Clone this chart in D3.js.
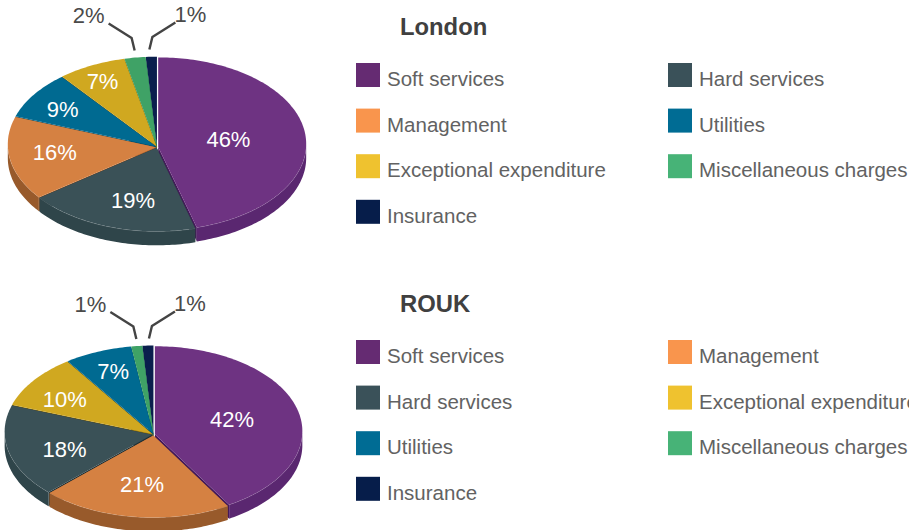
<!DOCTYPE html>
<html><head><meta charset="utf-8">
<script src="https://cdn.jsdelivr.net/npm/d3@7"></script>
<style>html,body{margin:0;padding:0;background:#fff;overflow:hidden}svg{display:block}text{font-family:"Liberation Sans",Arial,sans-serif}</style>
</head><body><svg id="c" width="909" height="530"></svg>
<script>
const londonCategories=["Soft services","Hard services","Management","Utilities","Exceptional expenditure","Miscellaneous charges","Insurance"];
const londonValues=[45.8,18.7,15.6,8.9,7.49,2.3,1.21];
const roukCategories=["Soft services","Management","Hard services","Exceptional expenditure","Utilities","Miscellaneous charges","Insurance"];
const roukValues=[41.6,20.8,17.6,10.2,7.4,1.2,1.2];
const londonLegendOrder=["Soft services","Hard services","Management","Utilities","Exceptional expenditure","Miscellaneous charges","Insurance"];
const roukLegendOrder=["Soft services","Management","Hard services","Exceptional expenditure","Utilities","Miscellaneous charges","Insurance"];

const palette={
 "Soft services":{top:"#6e3382",wall:"#5a2770",cut:"#44195a",key:"#652b72"},
 "Hard services":{top:"#3a5157",wall:"#2f454a",cut:"#1f3035",key:"#3a5159"},
 "Management":{top:"#d58142",wall:"#985a2b",cut:"#a9632f",key:"#f9954d"},
 "Utilities":{top:"#006a91",wall:"#00506e",cut:"#00506e",key:"#006c94"},
 "Exceptional expenditure":{top:"#d0a820",wall:"#a08015",cut:"#8f7212",key:"#efc22f"},
 "Miscellaneous charges":{top:"#3fa266",wall:"#1f7040",cut:"#1f7040",key:"#47b377"},
 "Insurance":{top:"#0a1f4d",wall:"#061535",cut:"#061535",key:"#061d4a"}
};
const svg=d3.select("#c");
const TAU=Math.PI*2;

function drawPie(o){
 const arcs=d3.pie().sort(null).startAngle(0).endAngle(TAU)(o.values);
 const sx=d3.scaleLinear().domain([-1,1]).range([o.cx-o.rx,o.cx+o.rx]);
 const sy=d3.scaleLinear().domain([-1,1]).range([o.cy-o.ry,o.cy+o.ry]);
 const pt=(a,r=1)=>[sx(Math.sin(a)*r),sy(-Math.cos(a)*r)];
 const line=d3.line();
 const slices=arcs.map((d,i)=>{
   const mid=(d.startAngle+d.endAngle)/2,c=palette[o.categories[i]];
   const dx=Math.sin(mid)*o.gap,dy=-Math.cos(mid)*o.gap*0.7;
   return {d,i,mid,c,dx,dy,order:-Math.cos(mid)};
 }).sort((a,b)=>a.order-b.order);
 const g=svg.append("g");
 slices.forEach(s=>{
   const {d,c}=s;
   const sg=g.append("g").attr("transform",`translate(${s.dx},${s.dy})`);
   const n=Math.max(4,Math.ceil((d.endAngle-d.startAngle)/0.02));
   const rim=d3.range(n+1).map(k=>d.startAngle+(d.endAngle-d.startAngle)*k/n);
   const apex=[o.cx,o.cy+o.apexDrop];
   [d.startAngle,d.endAngle].forEach(a=>{
     const p=pt(a);
     sg.append("path").attr("d",line([apex,p,[p[0],p[1]+o.depth],[apex[0],apex[1]+o.depth]])+"Z").attr("fill",c.cut);
   });
   const low=rim.filter(a=>Math.cos(a)<0.02);
   if(low.length>1){
     const tp=low.map(a=>pt(a));
     const bt=tp.map(p=>[p[0],p[1]+o.depth]).reverse();
     sg.append("path").attr("d",line(tp.concat(bt))+"Z").attr("fill",c.wall);
     sg.append("path").attr("d",line(tp)).attr("fill","none").attr("stroke","#fff").attr("stroke-opacity",.3).attr("stroke-width",.7);
   }
   sg.append("path").attr("d",line([apex].concat(rim.map(a=>pt(a))))+"Z").attr("fill",c.top);
 });
 arcs.forEach((d,i)=>{
   const mid=(d.startAngle+d.endAngle)/2;
   const txt=Math.round(d.value)+"%";
   if(o.labelR[i]!=null){
     const p=pt(mid,o.labelR[i]);
     svg.append("text").attr("x",p[0]+o.nudge[i][0]).attr("y",p[1]+o.nudge[i][1]+7.5)
       .attr("text-anchor","middle").attr("font-size",22).attr("fill","#fff").text(txt);
   }else{
     const p=pt(mid,1);
     const s=(i===arcs.length-2)?-1:1;
     const e=[p[0]+(s<0?-0.5:o.rightEnd),p[1]-8];
     const k=[e[0]+s*3,e[1]-12.5];
     const f=[k[0]+s*23,k[1]-14.5];
     svg.append("path").attr("d",line([e,k,f])).attr("fill","none").attr("stroke","#444").attr("stroke-width",2.4);
     svg.append("text").attr("x",f[0]+(s<0?-20:15)).attr("y",f[1]-0.5)
       .attr("text-anchor","middle").attr("font-size",22).attr("fill","#4a4a4a").text(txt);
   }
 });
 svg.append("text").attr("x",o.titleX).attr("y",o.titleY).attr("font-size",23.8).attr("font-weight",700).attr("fill","#404040").text(o.title);
 const col=d3.scaleOrdinal().domain([0,1]).range([356,668]);
 const row=d3.scaleLinear().domain([0,1]).range([o.legY,o.legY+45.6]);
 o.legend.forEach((name,i)=>{
   const c=i%2,r=Math.floor(i/2),x=col(c),y=row(r);
   svg.append("rect").attr("x",x).attr("y",y).attr("width",24).attr("height",24).attr("fill",palette[name].key);
   svg.append("text").attr("x",x+31).attr("y",y+23).attr("font-size",20.5).attr("fill","#626262").text(name);
 });
}

drawPie({title:"London",titleX:400,titleY:35,categories:londonCategories,values:londonValues,legend:londonLegendOrder,legY:63,
 cx:157,cy:144,rx:148,ry:86.5,apexDrop:3,depth:14,gap:1.2,rightEnd:-2,
 labelR:[.48,.7,.7,.78,.79,null,null],nudge:[[1,.5],[9,-.5],[0,-1.5],[1,3.5],[-3,-1],[0,0],[0,0]],
 });
drawPie({title:"ROUK",titleX:400,titleY:312,categories:roukCategories,values:roukValues,legend:roukLegendOrder,legY:340,
 cx:153.5,cy:431.5,rx:147.5,ry:85,apexDrop:3,depth:14,gap:1.4,rightEnd:1,
 labelR:[.545,.62,.614,.747,.75,null,null],nudge:[[1,0],[0,1],[-1,6],[0,6],[1,-1],[0,0],[0,0]],
 });
</script></body></html>
